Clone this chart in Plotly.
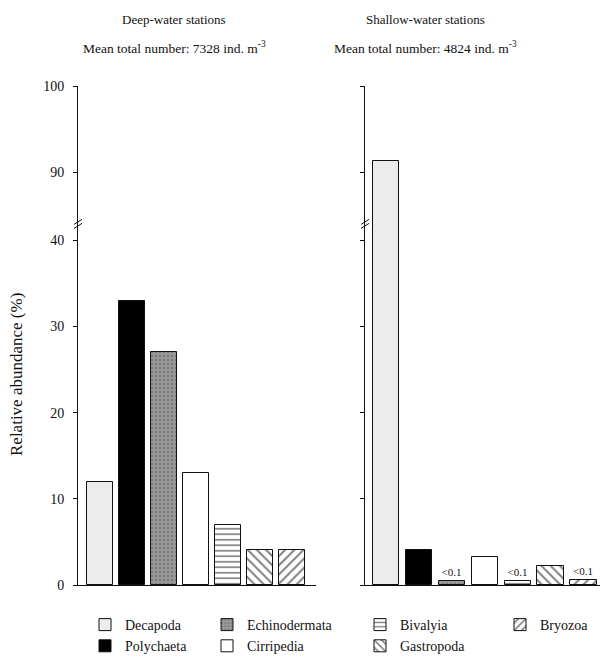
import plotly.graph_objects as go

# ---------------- data ----------------
categories = ["Decapoda", "Polychaeta", "Echinodermata", "Cirripedia",
              "Bivalyia", "Gastropoda", "Bryozoa"]
deep_values = [12.0, 33.0, 27.0, 13.0, 7.0, 4.1, 4.1]
shallow_values = [91.3, 4.1, 0.5, 3.2, 0.5, 2.2, 0.6]
shallow_labels = ["", "", "<0.1", "", "<0.1", "", "<0.1"]
ytick_values = [0, 10, 20, 30, 40, 90, 100]
ytick_labels = ["0", "10", "20", "30", "40", "90", "100"]
legend_column = [1, 1, 2, 2, 3, 3, 4]
panel_titles = ["Deep-water stations", "Shallow-water stations"]
panel_subtitles = ["Mean total number: 7328 ind. m<sup>-3</sup>",
                   "Mean total number: 4824 ind. m<sup>-3</sup>"]

# axis break (values between these are cut out)
BREAK_LOW = 41.9
BREAK_HIGH = 84.0


def tr(v):
    return v if v <= BREAK_LOW else v - (BREAK_HIGH - BREAK_LOW)


# ---------------- styles ----------------
FONT = "Liberation Serif"
INK = "#111111"
styles = {
    "Decapoda": dict(color="#ececec"),
    "Polychaeta": dict(color="#000000"),
    "Echinodermata": dict(color="#8c8c8c",
                          pattern=dict(shape=".", size=4, solidity=0.3,
                                       fgcolor="#5a5a5a", bgcolor="#9a9a9a")),
    "Cirripedia": dict(color="#ffffff"),
    "Bivalyia": dict(color="#ffffff",
                     pattern=dict(shape="-", size=5.5, solidity=0.3,
                                  fgcolor="#000000", bgcolor="#ffffff")),
    "Gastropoda": dict(color="#ffffff",
                       pattern=dict(shape="\\", size=6.5, solidity=0.3,
                                    fgcolor="#000000", bgcolor="#ffffff")),
    "Bryozoa": dict(color="#ffffff",
                    pattern=dict(shape="/", size=6.5, solidity=0.3,
                                 fgcolor="#000000", bgcolor="#ffffff")),
}

W, H = 601, 662
fig = go.Figure()

legend_ids = {1: "legend", 2: "legend2", 3: "legend3", 4: "legend4"}
xpos = list(range(len(categories)))
for i, cat in enumerate(categories):
    st = styles[cat]
    marker = dict(color=st["color"], line=dict(color=INK, width=1))
    if "pattern" in st:
        marker["pattern"] = st["pattern"]
    fig.add_trace(go.Bar(
        x=[xpos[i]], y=[tr(deep_values[i])], name=cat, legendgroup=cat,
        legend=legend_ids[legend_column[i]], showlegend=True, width=0.8,
        marker=marker, xaxis="x", yaxis="y", hoverinfo="skip"))
    extra = {}
    if shallow_labels[i]:
        extra = dict(text=[shallow_labels[i]], textposition="outside",
                     textfont=dict(family=FONT, size=11, color=INK),
                     cliponaxis=False)
    fig.add_trace(go.Bar(
        x=[xpos[i]], y=[tr(shallow_values[i])], name=cat, legendgroup=cat,
        legend=legend_ids[legend_column[i]], showlegend=False, width=0.8,
        marker=marker, xaxis="x2", yaxis="y2", hoverinfo="skip", **extra))

ydom = [1 - 585 / H, 1 - 86 / H]
yaxis_common = dict(range=[0, tr(100)], domain=ydom, tickmode="array",
                    tickvals=[tr(v) for v in ytick_values],
                    ticks="outside", ticklen=4, tickcolor=INK,
                    ticklabelstandoff=6,
                    showline=True, linecolor=INK, linewidth=1,
                    showgrid=False, zeroline=False, automargin=False,
                    tickfont=dict(family=FONT, size=14, color=INK))
xaxis_common = dict(showline=True, linecolor=INK, linewidth=1,
                    showticklabels=False, ticks="", showgrid=False,
                    zeroline=False, automargin=False)

legend_common = dict(orientation="v", xanchor="left",
                     font=dict(family=FONT, size=14, color=INK),
                     itemwidth=30, bgcolor="rgba(0,0,0,0)",
                     tracegroupgap=0, traceorder="normal")
legend_sym_x = [105, 227, 380, 520]
legend_top = 1 - 609 / H

fig.update_layout(
    width=W, height=H, autosize=False,
    margin=dict(l=0, r=0, t=0, b=0),
    paper_bgcolor="white", plot_bgcolor="white",
    barmode="overlay", bargap=0,
    font=dict(family=FONT, size=12, color=INK),
    xaxis=dict(domain=[78 / W, 316 / W], range=[-0.69, 6.75], **xaxis_common),
    xaxis2=dict(domain=[365 / W, 600 / W], range=[-0.64, 6.5], anchor="y2",
                **xaxis_common),
    yaxis=dict(ticktext=ytick_labels, anchor="x", **yaxis_common),
    yaxis2=dict(showticklabels=False, anchor="x2", **yaxis_common),
    legend=dict(x=(legend_sym_x[0] - 20) / W, y=0, yanchor="bottom",
                **legend_common),
    legend2=dict(x=(legend_sym_x[1] - 20) / W, y=0, yanchor="bottom",
                 **legend_common),
    legend3=dict(x=(legend_sym_x[2] - 20) / W, y=0, yanchor="bottom",
                 **legend_common),
    legend4=dict(x=(legend_sym_x[3] - 20) / W, y=legend_top, yanchor="top",
                 **legend_common),
    showlegend=True,
)

# axis break marks
for xr, yr in (("x domain", "y"), ("x2 domain", "y2")):
    for off in (-2, 2):
        fig.add_shape(type="line", xref=xr, yref=yr,
                      xsizemode="pixel", ysizemode="pixel",
                      xanchor=0, yanchor=BREAK_LOW,
                      x0=-4, x1=4, y0=off - 2.5, y1=off + 2.5,
                      line=dict(color=INK, width=1))

# titles
centers = [174 / W, 425 / W]
for c, t, s in zip(centers, panel_titles, panel_subtitles):
    fig.add_annotation(x=c, y=1 - 20 / H, xref="paper", yref="paper",
                       text=t, showarrow=False, xanchor="center",
                       yanchor="middle",
                       font=dict(family=FONT, size=13, color=INK))
    fig.add_annotation(x=c, y=1 - 47 / H, xref="paper", yref="paper",
                       text=s, showarrow=False, xanchor="center",
                       yanchor="middle",
                       font=dict(family=FONT, size=13.5, color=INK))

fig.add_annotation(x=16 / W, y=1 - 375 / H, xref="paper", yref="paper",
                   text="Relative abundance (%)", textangle=-90,
                   showarrow=False, xanchor="center", yanchor="middle",
                   font=dict(family=FONT, size=17, color=INK))

fig.write_html("out.html")
